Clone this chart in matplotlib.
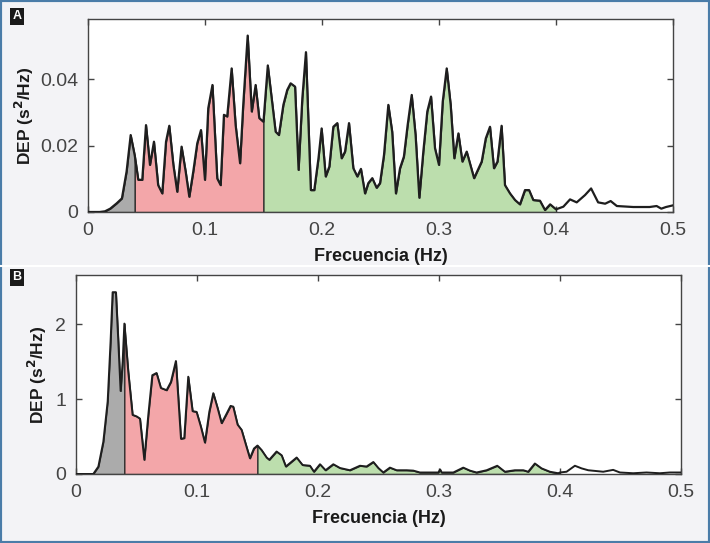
import numpy as np
import matplotlib
matplotlib.use('Agg')
import matplotlib.pyplot as plt
from matplotlib.patches import Rectangle
from matplotlib.lines import Line2D

plt.rcParams['font.family'] = ['Liberation Sans', 'DejaVu Sans']

# Panel A: frecuencia (Hz) y DEP (s^2/Hz)
freq_a = [0.000, 0.005, 0.010, 0.0145, 0.019, 0.0245, 0.029, 0.033, 0.0365, 0.040,
          0.043, 0.0464, 0.0496, 0.053, 0.0564, 0.060, 0.0635, 0.0667, 0.0695, 0.073,
          0.0763, 0.080, 0.0835, 0.0866, 0.090, 0.0934, 0.0966, 0.100, 0.1028, 0.1064,
          0.1105, 0.1134, 0.1162, 0.119, 0.1228, 0.1262, 0.130, 0.1327, 0.1365, 0.140,
          0.1433, 0.1464, 0.150, 0.1537, 0.157, 0.1604, 0.1632, 0.167, 0.1703, 0.1732,
          0.177, 0.180, 0.1832, 0.1863, 0.1905, 0.1934, 0.197, 0.1997, 0.2032, 0.2063,
          0.2097, 0.2131, 0.2168, 0.2197, 0.2231, 0.2268, 0.2302, 0.2333, 0.2368, 0.2396,
          0.243, 0.2467, 0.2496, 0.253, 0.2567, 0.260, 0.2632, 0.2667, 0.270, 0.2732,
          0.2767, 0.280, 0.2832, 0.2866, 0.290, 0.2932, 0.2966, 0.300, 0.3032, 0.3066,
          0.310, 0.3131, 0.3166, 0.320, 0.3237, 0.330, 0.3365, 0.340, 0.3436, 0.347,
          0.350, 0.3535, 0.3564, 0.3607, 0.365, 0.3692, 0.3735, 0.377, 0.3806, 0.3863,
          0.3906, 0.395, 0.400, 0.4063, 0.412, 0.4177, 0.4248, 0.430, 0.436, 0.442,
          0.4467, 0.452, 0.466, 0.480, 0.486, 0.490, 0.494, 0.500]
dep_a = [0.0, 0.0, 0.0, 0.0002, 0.001, 0.0026, 0.0041, 0.0122, 0.0232, 0.017,
         0.0097, 0.0097, 0.0262, 0.0142, 0.0212, 0.0081, 0.0056, 0.0212, 0.026, 0.0142,
         0.0061, 0.0197, 0.0122, 0.0046, 0.0122, 0.0207, 0.0247, 0.0097, 0.0313, 0.0383,
         0.0101, 0.0081, 0.0293, 0.0288, 0.0433, 0.0262, 0.0147, 0.0323, 0.0532, 0.0303,
         0.0383, 0.0283, 0.0272, 0.0442, 0.0343, 0.0242, 0.0232, 0.0323, 0.0368, 0.0388,
         0.0378, 0.0127, 0.0343, 0.0482, 0.0066, 0.0066, 0.0162, 0.0252, 0.0107, 0.0137,
         0.0257, 0.0268, 0.0162, 0.0182, 0.0268, 0.0132, 0.0107, 0.013, 0.0056, 0.0087,
         0.0102, 0.0073, 0.0087, 0.0172, 0.0323, 0.0242, 0.0056, 0.0132, 0.0167, 0.0262,
         0.0353, 0.0232, 0.0043, 0.0182, 0.0303, 0.0348, 0.0192, 0.0142, 0.0333, 0.0433,
         0.0323, 0.0162, 0.0237, 0.0152, 0.0182, 0.0102, 0.0152, 0.0222, 0.0257, 0.0132,
         0.0152, 0.026, 0.0081, 0.0056, 0.0036, 0.0023, 0.0066, 0.0066, 0.0036, 0.0034,
         0.0006, 0.0023, 0.0008, 0.0016, 0.0038, 0.0029, 0.0051, 0.0071, 0.0029, 0.0025,
         0.0033, 0.0018, 0.0015, 0.0015, 0.0018, 0.001, 0.0015, 0.002]

# Panel B
freq_b = [0.000, 0.010, 0.0143, 0.0185, 0.0226, 0.0262, 0.0286, 0.0303, 0.033, 0.035,
          0.0369, 0.0386, 0.040, 0.0432, 0.0468, 0.0501, 0.0529, 0.0565, 0.0598, 0.0631,
          0.0666, 0.0702, 0.0749, 0.0785, 0.0826, 0.0868, 0.0895, 0.0928, 0.0964, 0.0997,
          0.1033, 0.1066, 0.1102, 0.1135, 0.1171, 0.1204, 0.124, 0.1278, 0.130, 0.1336,
          0.1369, 0.1405, 0.1438, 0.1471, 0.150, 0.1534, 0.1576, 0.1598, 0.1658, 0.170,
          0.1735, 0.1824, 0.1873, 0.1934, 0.1967, 0.2017, 0.2063, 0.2127, 0.2182, 0.2264,
          0.2347, 0.2402, 0.2458, 0.2499, 0.254, 0.2595, 0.265, 0.2733, 0.2788, 0.2843,
          0.2926, 0.2995, 0.301, 0.3022, 0.3119, 0.3201, 0.3256, 0.3311, 0.3394, 0.3482,
          0.3545, 0.3628, 0.3697, 0.3738, 0.3793, 0.3848, 0.3917, 0.3986, 0.400, 0.4055,
          0.4124, 0.4179, 0.4234, 0.4358, 0.444, 0.4496, 0.4606, 0.4716, 0.4826, 0.4909,
          0.500]
dep_b = [0.0, 0.0, 0.0, 0.098, 0.43, 0.97, 1.77, 2.43, 2.43, 1.77,
         1.11, 1.50, 2.01, 1.37, 0.79, 0.77, 0.74, 0.19, 0.79, 1.32,
         1.35, 1.15, 1.12, 1.23, 1.51, 0.47, 0.48, 1.30, 0.84, 0.83,
         0.63, 0.42, 0.83, 1.08, 0.88, 0.68, 0.79, 0.91, 0.90, 0.66,
         0.59, 0.39, 0.21, 0.34, 0.38, 0.32, 0.22, 0.19, 0.30, 0.25,
         0.10, 0.22, 0.12, 0.11, 0.03, 0.13, 0.05, 0.13, 0.08, 0.05,
         0.11, 0.10, 0.16, 0.08, 0.02, 0.085, 0.05, 0.05, 0.045, 0.02,
         0.02, 0.02, 0.06, 0.02, 0.02, 0.085, 0.045, 0.02, 0.05, 0.11,
         0.03, 0.05, 0.05, 0.03, 0.14, 0.075, 0.03, 0.01, 0.02, 0.03,
         0.11, 0.075, 0.05, 0.03, 0.055, 0.02, 0.01, 0.02, 0.01, 0.02,
         0.02]

# bandas VLF / LF / HF
bands = [(0.0, 0.04, '#ababab'), (0.04, 0.15, '#f3a6a9'), (0.15, 0.40, '#bcdead')]

xticks = [0, 0.1, 0.2, 0.3, 0.4, 0.5]
xticklabels = ['0', '0.1', '0.2', '0.3', '0.4', '0.5']
yticks_a = [0, 0.02, 0.04]
yticklabels_a = ['0', '0.02', '0.04']
yticks_b = [0, 1, 2]
yticklabels_b = ['0', '1', '2']

fig = plt.figure(figsize=(7.1, 5.43), dpi=100)
fig.patch.set_facecolor('#f3f3f6')

ax_a = fig.add_axes([0.1239, 0.6096, 0.824, 0.3554])
ax_b = fig.add_axes([0.1070, 0.1271, 0.852, 0.3665])


def draw_panel(ax, f, v, ymax, yticks, yticklabels, lw):
    f = np.array(f)
    v = np.array(v)
    for lo, hi, c in bands:
        m = (f >= lo) & (f <= hi)
        ax.fill_between(f[m], v[m], 0, facecolor=c, edgecolor='#2a2a2a', linewidth=0.9, zorder=2)
    ax.plot(f, v, color='#1e1e1e', linewidth=lw, zorder=3)
    ax.set_xlim(0, 0.5)
    ax.set_ylim(0, ymax)
    ax.set_xticks(xticks)
    ax.set_xticklabels(xticklabels)
    ax.set_yticks(yticks)
    ax.set_yticklabels(yticklabels)
    ax.tick_params(direction='in', top=True, right=True, length=4, width=1,
                   color='#444444', labelcolor='#444444', labelsize=14, pad=7)
    for s in ax.spines.values():
        s.set_color('#444444')
        s.set_linewidth(1)
    ax.set_facecolor('white')
    ax.set_xlabel('Frecuencia (Hz)', fontsize=13, fontweight='bold', color='#1a1a1a', labelpad=7)
    ax.set_ylabel('DEP (s$^\\mathbf{2}$/Hz)', fontsize=12.5, fontweight='bold', color='#1a1a1a')


draw_panel(ax_a, freq_a, dep_a, 0.0582, yticks_a, yticklabels_a, 1.6)
draw_panel(ax_b, freq_b, dep_b, 2.66, yticks_b, yticklabels_b, 1.4)
ax_a.yaxis.set_label_coords(-0.088, 0.5)
ax_b.yaxis.set_label_coords(-0.045, 0.5)

# etiquetas de panel
fig.text(17 / 710, 1 - 16 / 543, 'A', color='white', fontsize=9, fontweight='bold',
         ha='center', va='center', bbox=dict(boxstyle='square,pad=0.2', fc='#1a1a1a', ec='none'))
fig.text(17 / 710, 1 - 277 / 543, 'B', color='white', fontsize=9, fontweight='bold',
         ha='center', va='center', bbox=dict(boxstyle='square,pad=0.2', fc='#1a1a1a', ec='none'))

# separador y marco
fig.add_artist(Line2D([0, 1], [1 - 266 / 543, 1 - 266 / 543], color='white', linewidth=1.5))
fig.add_artist(Rectangle((0, 0), 1, 1, transform=fig.transFigure, fill=False,
                         edgecolor='#4a7ca8', linewidth=3))

plt.savefig('out.png', dpi=100, facecolor=fig.get_facecolor())
